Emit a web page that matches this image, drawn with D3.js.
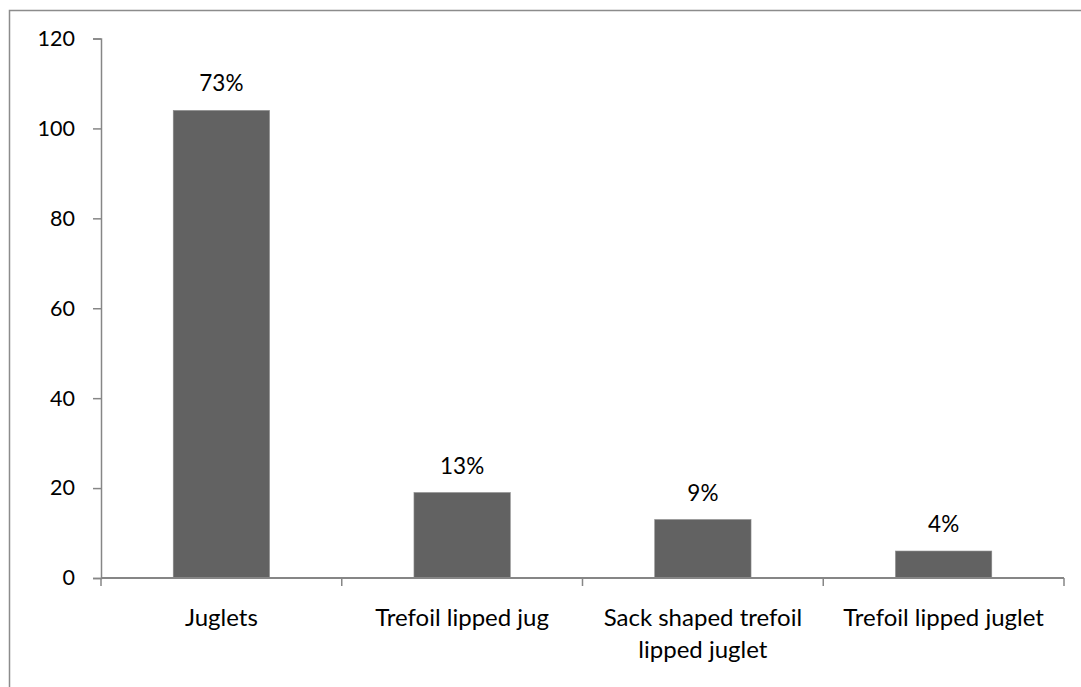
<!DOCTYPE html>
<html>
<head>
<meta charset="utf-8">
<script src="https://cdn.jsdelivr.net/npm/d3@7"></script>
<style>
  html, body { margin: 0; padding: 0; background: #fff; }
  svg { display: block; }
  text { font-family: Lato, "Open Sans", sans-serif; fill: #000; }
</style>
</head>
<body>
<svg id="chart" width="1081" height="687"></svg>
<script>
// Vessel types and counts
const categories = [
  ["Juglets"],
  ["Trefoil lipped jug"],
  ["Sack shaped trefoil", "lipped juglet"],
  ["Trefoil lipped juglet"]
];
const counts = [104, 19, 13, 6];
const percentLabels = ["73%", "13%", "9%", "4%"];
const yTicks = [0, 20, 40, 60, 80, 100, 120];

const W = 1081, H = 687;
const plot = { left: 101, right: 1064, top: 38.5, bottom: 578 };
const axisColor = "#868686";

const svg = d3.select("#chart");

// chart area frame
svg.append("rect")
  .attr("x", 9.5).attr("y", 10.5)
  .attr("width", W + 20).attr("height", H + 20)
  .attr("fill", "#fff")
  .attr("stroke", "#8c8c8c").attr("stroke-width", 1.5);

const x = d3.scaleBand()
  .domain(d3.range(categories.length))
  .range([plot.left, plot.right])
  .paddingInner(0.6)
  .paddingOuter(0.3);

const y = d3.scaleLinear()
  .domain([0, 120])
  .range([plot.bottom, plot.top]);

// bars
svg.append("g").selectAll("rect")
  .data(counts)
  .join("rect")
  .attr("x", (d, i) => x(i))
  .attr("y", d => y(d))
  .attr("width", x.bandwidth())
  .attr("height", d => y(0) - y(d))
  .attr("fill", "#626262")
  .attr("stroke", "#8a8a8a")
  .attr("stroke-width", 0.6);

// y axis
const yAxis = d3.axisLeft(y).tickValues(yTicks).tickSize(8).tickPadding(18);
const gy = svg.append("g")
  .attr("transform", `translate(${plot.left},0)`)
  .call(yAxis);
gy.select(".domain").attr("stroke", axisColor).attr("stroke-width", 1.5);
gy.selectAll(".tick line").attr("stroke", axisColor).attr("stroke-width", 1.5);
gy.selectAll(".tick text")
  .style("font-size", "21.5px")
  .style("font-family", "Lato, sans-serif")
  .attr("fill", "#000");

// x axis line with boundary ticks between categories
const boundaries = d3.range(categories.length + 1)
  .map(i => plot.left + i * x.step());
svg.append("line")
  .attr("x1", plot.left).attr("x2", plot.right)
  .attr("y1", y(0)).attr("y2", y(0))
  .attr("stroke", axisColor).attr("stroke-width", 2);
svg.append("g").selectAll("line")
  .data(boundaries)
  .join("line")
  .attr("x1", d => d).attr("x2", d => d)
  .attr("y1", y(0)).attr("y2", y(0) + 8)
  .attr("stroke", axisColor).attr("stroke-width", 1.5);

// category labels
const lineGap = 32;
svg.append("g").selectAll("text")
  .data(categories)
  .join("text")
  .attr("text-anchor", "middle")
  .attr("x", (d, i) => x(i) + x.bandwidth() / 2)
  .attr("y", 626)
  .style("font-size", "24px")
  .each(function(lines) {
    d3.select(this).selectAll("tspan")
      .data(lines)
      .join("tspan")
      .attr("x", d3.select(this).attr("x"))
      .attr("dy", (l, j) => j === 0 ? 0 : lineGap)
      .text(l => l);
  });

// percentage labels above bars
svg.append("g").selectAll("text")
  .data(counts)
  .join("text")
  .attr("text-anchor", "middle")
  .attr("x", (d, i) => x(i) + x.bandwidth() / 2)
  .attr("y", d => y(d) - 19)
  .style("font-size", "22.5px")
  .text((d, i) => percentLabels[i]);
</script>
</body>
</html>
